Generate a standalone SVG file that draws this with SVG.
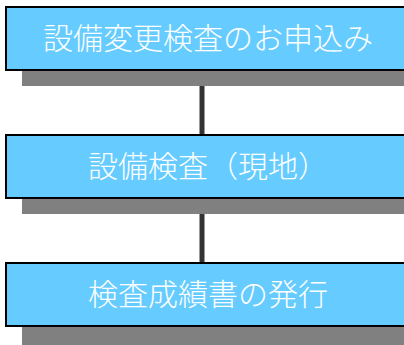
<svg xmlns="http://www.w3.org/2000/svg" width="404" height="345" viewBox="0 0 404 345">
<style>
.shadow{fill:#808080}
.box{fill:#66CCFF;stroke:#000;stroke-width:2}
.lbl{fill:#fff;font-family:"Noto Sans CJK JP","Noto Sans CJK SC",sans-serif;font-size:30px;font-weight:300;text-anchor:middle}
.conn{stroke:#333;stroke-width:5;fill:none}
</style>
<rect width="404" height="345" fill="#fff"/>
<g id="connectors">
<line class="conn" x1="202" y1="70" x2="202" y2="135"/>
<line class="conn" x1="202" y1="198" x2="202" y2="263"/>
</g>
<g id="node1">
<rect class="shadow" x="22" y="70" width="400" height="16"/>
<rect class="box" x="6" y="7" width="405" height="63"/>
<text class="lbl" x="208" y="49">設備変更検査のお申込み</text>
</g>
<g id="node2">
<rect class="shadow" x="22" y="198" width="400" height="16"/>
<rect class="box" x="6" y="135" width="405" height="63"/>
<text class="lbl" x="208" y="177">設備検査（現地）</text>
</g>
<g id="node3">
<rect class="shadow" x="22" y="326" width="400" height="20"/>
<rect class="box" x="6" y="263" width="405" height="63"/>
<text class="lbl" x="208" y="305">検査成績書の発行</text>
</g>
</svg>
